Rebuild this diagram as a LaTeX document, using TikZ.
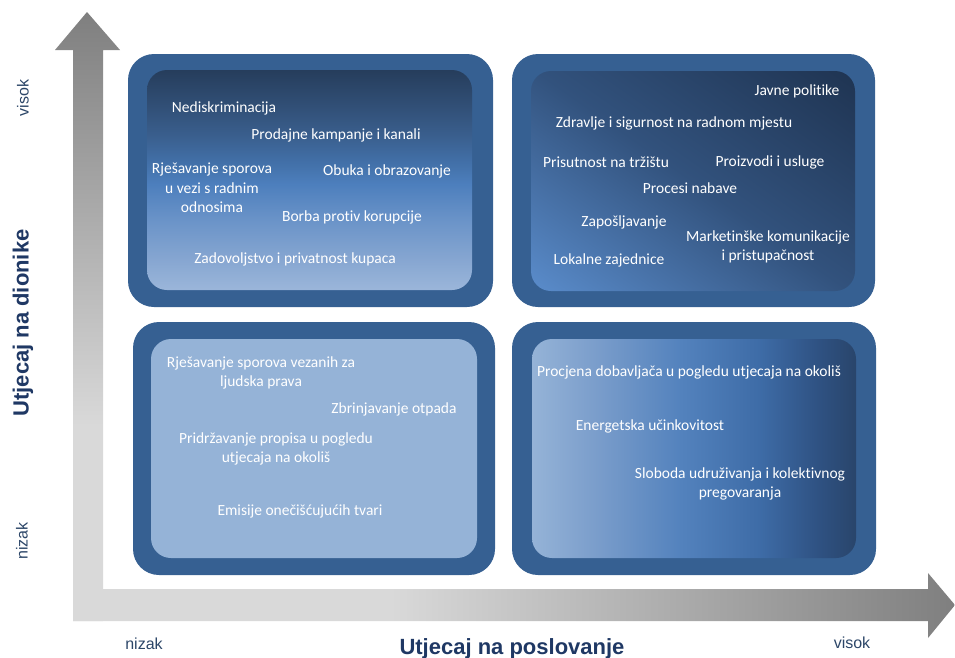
\documentclass[tikz,border=0pt]{standalone}
\usepackage{fontspec}
\setmainfont{Carlito}[Ligatures=NoCommon]
\newfontfamily\arialf{Liberation Sans}
\definecolor{frameblue}{RGB}{54,96,146}
\definecolor{lgray}{RGB}{217,217,217}
\definecolor{dgray}{RGB}{127,127,127}
\definecolor{axisnavy}{RGB}{31,56,100}
\definecolor{axislbl}{RGB}{44,70,104}
\definecolor{flatblue}{RGB}{149,179,215}
% top-left
\definecolor{tlA}{RGB}{155,182,218}
\definecolor{tlB}{RGB}{134,166,209}
\definecolor{tlC}{RGB}{106,147,200}
\definecolor{tlD}{RGB}{77,127,189}
\definecolor{tlE}{RGB}{66,112,168}
\definecolor{tlF}{RGB}{58,95,142}
\definecolor{tlG}{RGB}{50,81,121}
\definecolor{tlH}{RGB}{38,61,92}
% top-right
\definecolor{trDark}{RGB}{31,52,82}
\definecolor{trMid}{RGB}{50,82,125}
\definecolor{trLight}{RGB}{90,140,203}
% bottom-right
\definecolor{brA}{RGB}{149,179,215}
\definecolor{brB}{RGB}{122,157,203}
\definecolor{brC}{RGB}{83,130,189}
\definecolor{brD}{RGB}{62,108,167}
\definecolor{brE}{RGB}{47,82,131}
\definecolor{brF}{RGB}{41,69,107}
\pgfdeclareverticalshading{vgray}{100bp}{color(0bp)=(lgray); color(41bp)=(lgray); color(75bp)=(dgray); color(100bp)=(dgray)}
\pgfdeclarehorizontalshading{hgray}{100bp}{color(0bp)=(lgray); color(43bp)=(lgray); color(75bp)=(dgray); color(100bp)=(dgray)}
\pgfdeclareverticalshading{tlshade}{100bp}{color(0bp)=(tlA); color(25bp)=(tlA); color(32bp)=(tlB); color(41bp)=(tlC); color(49bp)=(tlD); color(54bp)=(tlE); color(60bp)=(tlF); color(66bp)=(tlG); color(75bp)=(tlH); color(100bp)=(tlH)}
\pgfdeclarehorizontalshading{brshade}{100bp}{color(0bp)=(brA); color(25bp)=(brA); color(35bp)=(brB); color(48bp)=(brC); color(60bp)=(brD); color(69bp)=(brE); color(75bp)=(brF); color(100bp)=(brF)}
\tikzset{
  outerbox/.style={fill=frameblue, rounded corners=26pt},
  innerbox/.style={rounded corners=20pt},
  lbl/.style={text=white, font=\fontsize{15.5}{19.5}\selectfont, align=center, inner sep=0pt},
  axtitle/.style={text=axisnavy, font=\arialf\bfseries\fontsize{22}{24}\selectfont, inner sep=0pt},
  axlevel/.style={text=axislbl, font=\arialf\fontsize{16}{18}\selectfont, inner sep=0pt}
}
\begin{document}
\begin{tikzpicture}[x=1pt,y=-1pt]
\useasboundingbox (0,0) rectangle (955,657);
% axes
\path[shading=vgray] (73,621) -- (73,50) -- (55,50) -- (87,12) -- (120,50) -- (103,50) -- (103,621) -- cycle;
\path[shading=hgray] (73,589) -- (928,589) -- (928,573) -- (955,605) -- (928,638) -- (928,621) -- (73,621) -- cycle;
% quadrants: outer frames
\path[outerbox] (128,54) rectangle (493,307);
\path[outerbox] (512,54) rectangle (875,307);
\path[outerbox] (133,322) rectangle (495,575);
\path[outerbox] (512,322) rectangle (876,575);
% inner panels
\path[innerbox, shading=tlshade] (147,70) rectangle (472,290);
\begin{scope}
  \clip[innerbox] (531,71) rectangle (855,291);
  \path[shading=axis, top color=trDark, bottom color=trLight, middle color=trMid, shading angle=-35] (511,-1) rectangle (875,363);
\end{scope}
\path[innerbox, fill=flatblue] (151,339) rectangle (477,558);
\path[innerbox, shading=brshade] (532,339) rectangle (856,558);
% top-left texts
\node[lbl] (t1) at (224,108) {Nediskriminacija};
\node[lbl] (t2) at (336,135) {Prodajne kampanje i kanali};
\node[lbl] (t3) at (212,188) {Rješavanje sporova\\u vezi s radnim\\odnosima};
\node[lbl] (t4) at (387,171) {Obuka i obrazovanje};
\node[lbl] (t5) at (352,217) {Borba protiv korupcije};
\node[lbl] (t6) at (295,259) {Zadovoljstvo i privatnost kupaca};
% top-right texts
\node[lbl] (r1) at (797,91) {Javne politike};
\node[lbl] (r2) at (674,123) {Zdravlje i sigurnost na radnom mjestu};
\node[lbl] (r3) at (606,162) {Prisutnost na tržištu};
\node[lbl] (r4) at (770,162) {Proizvodi i usluge};
\node[lbl] (r5) at (690,188) {Procesi nabave};
\node[lbl] (r6) at (624,222) {Zapošljavanje};
\node[lbl] (r7) at (768,247) {Marketinške komunikacije\\i pristupačnost};
\node[lbl] (r8) at (609,260) {Lokalne zajednice};
% bottom-left texts
\node[lbl] (b1) at (261,373) {Rješavanje sporova vezanih za\\ljudska prava};
\node[lbl] (b2) at (394,409) {Zbrinjavanje otpada};
\node[lbl] (b3) at (276,449) {Pridržavanje propisa u pogledu\\utjecaja na okoliš};
\node[lbl] (b4) at (300,511) {Emisije onečišćujućih tvari};
% bottom-right texts
\node[lbl] (s1) at (689,372) {Procjena dobavljača u pogledu utjecaja na okoliš};
\node[lbl] (s2) at (650,426) {Energetska učinkovitost};
\node[lbl] (s3) at (740,484) {Sloboda udruživanja i kolektivnog\\pregovaranja};
% axis labels
\node[axtitle, rotate=90] (ay) at (23,323) {Utjecaj na dionike};
\node[axlevel, rotate=90] (ayh) at (23,98) {visok};
\node[axlevel, rotate=90] (ayl) at (22,541) {nizak};
\node[axtitle, anchor=base] (ax) at (512,654) {Utjecaj na poslovanje};
\node[axlevel, anchor=base] (axl) at (144,649) {nizak};
\node[axlevel, anchor=base] (axh) at (852,648) {visok};
\end{tikzpicture}
\end{document}
